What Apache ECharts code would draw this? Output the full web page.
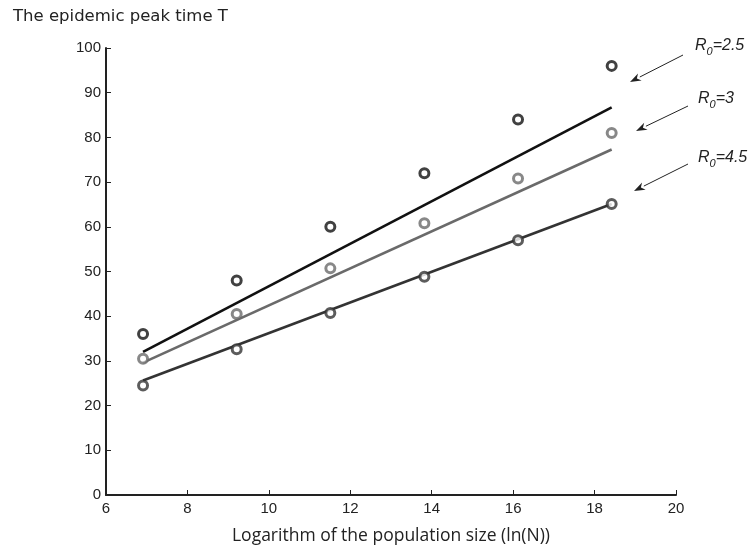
<!DOCTYPE html>
<html>
<head>
<meta charset="utf-8">
<script src="https://cdn.jsdelivr.net/npm/echarts@6/dist/echarts.min.js"></script>
<style>
  html, body { margin: 0; padding: 0; background: #fff; }
  #chart { width: 752px; height: 547px; }
</style>
</head>
<body>
<div id="chart"></div>
<script>
// ln(N) for N = 10^3 ... 10^8
var lnN = [6.91, 9.21, 11.51, 13.82, 16.12, 18.42];
var peakR25 = [36, 48, 60, 72, 84, 96];
var peakR3 = [30.5, 40.5, 50.7, 60.8, 70.8, 81];
var peakR45 = [24.5, 32.6, 40.7, 48.8, 57, 65.1];
// fitted lines, value at first and last ln(N)
var fitR25 = [32, 86.7];
var fitR3 = [29.6, 77.3];
var fitR45 = [25.6, 65.1];
var labels = ['2.5', '3', '4.5'];

var colors = ['#111111', '#6a6a6a', '#333333'];

function pts(ys) {
  return lnN.map(function (x, i) { return [x, ys[i]]; });
}
function fit(f) {
  return [[lnN[0], f[0]], [lnN[lnN.length - 1], f[1]]];
}

var chart = echarts.init(document.getElementById('chart'));

// annotation arrows (pixel positions of the pointers)
var arrows = [
  { from: [683, 55], to: [630, 82], text: [695, 38] },
  { from: [688, 106], to: [636, 131], text: [698, 91] },
  { from: [688, 164], to: [634, 191], text: [698, 150] }
];
var graphic = [{
  type: 'text', left: 13, top: 8,
  style: { text: 'The epidemic peak time T', font: '16.5px "DejaVu Sans"', fill: '#222' }
}];
arrows.forEach(function (a, i) {
  var dx = a.to[0] - a.from[0], dy = a.to[1] - a.from[1];
  var len = Math.sqrt(dx * dx + dy * dy);
  var ux = dx / len, uy = dy / len;
  var hl = 11, hw = 4;
  var bx = a.to[0] - ux * hl, by = a.to[1] - uy * hl;
  graphic.push({
    type: 'line',
    shape: { x1: a.from[0], y1: a.from[1], x2: bx, y2: by },
    style: { stroke: '#222', lineWidth: 1 }
  });
  graphic.push({
    type: 'polygon',
    shape: { points: [a.to, [bx - uy * hw, by + ux * hw], [a.to[0] - ux * hl * 0.7, a.to[1] - uy * hl * 0.7], [bx + uy * hw, by - ux * hw]] },
    style: { fill: '#222' }
  });
  graphic.push({
    type: 'text', left: a.text[0], top: a.text[1],
    style: {
      text: '{r|R}{s|0}{r|=' + labels[i] + '}',
      rich: {
        r: { fontFamily: 'Liberation Sans', fontStyle: 'italic', fontSize: 16, fill: '#222' },
        s: { fontFamily: 'Liberation Sans', fontStyle: 'italic', fontSize: 11, fill: '#222', padding: [12, 0, 0, 0] }
      }
    }
  });
});

function scatter(ys, c) {
  return {
    type: 'scatter', data: pts(ys), symbol: 'circle', symbolSize: 9,
    itemStyle: { color: '#fff', borderColor: c, borderWidth: 3 }, z: 3
  };
}
function fitLine(f, c) {
  return {
    type: 'line', data: fit(f), showSymbol: false, symbol: 'none',
    lineStyle: { color: c, width: 2.6 }, z: 2
  };
}

chart.setOption({
  animation: false,
  grid: { left: 106, right: 76, top: 48, bottom: 52, outerBoundsMode: 'none' },
  graphic: graphic,
  xAxis: {
    type: 'value', min: 6, max: 20, interval: 2,
    name: 'Logarithm of the population size (ln(N))',
    nameLocation: 'middle', nameGap: 32,
    nameTextStyle: { fontFamily: 'Open Sans', fontSize: 17.5, color: '#222' },
    axisLine: { lineStyle: { color: '#222', width: 2 } },
    axisTick: { inside: true, length: 5, lineStyle: { color: '#222', width: 1 } },
    axisLabel: { fontFamily: 'Liberation Sans', fontSize: 15, color: '#222', margin: 6 },
    splitLine: { show: false }
  },
  yAxis: {
    type: 'value', min: 0, max: 100, interval: 10,
    axisLine: { show: true, lineStyle: { color: '#222', width: 2 } },
    axisTick: { show: true, inside: true, length: 5, lineStyle: { color: '#222', width: 1 } },
    axisLabel: { fontFamily: 'Liberation Sans', fontSize: 15, color: '#222', margin: 5 },
    splitLine: { show: false }
  },
  series: [
    fitLine(fitR25, colors[0]),
    fitLine(fitR3, colors[1]),
    fitLine(fitR45, colors[2]),
    scatter(peakR25, colors[0]),
    scatter(peakR3, colors[1]),
    scatter(peakR45, colors[2])
  ]
});
</script>
</body>
</html>
